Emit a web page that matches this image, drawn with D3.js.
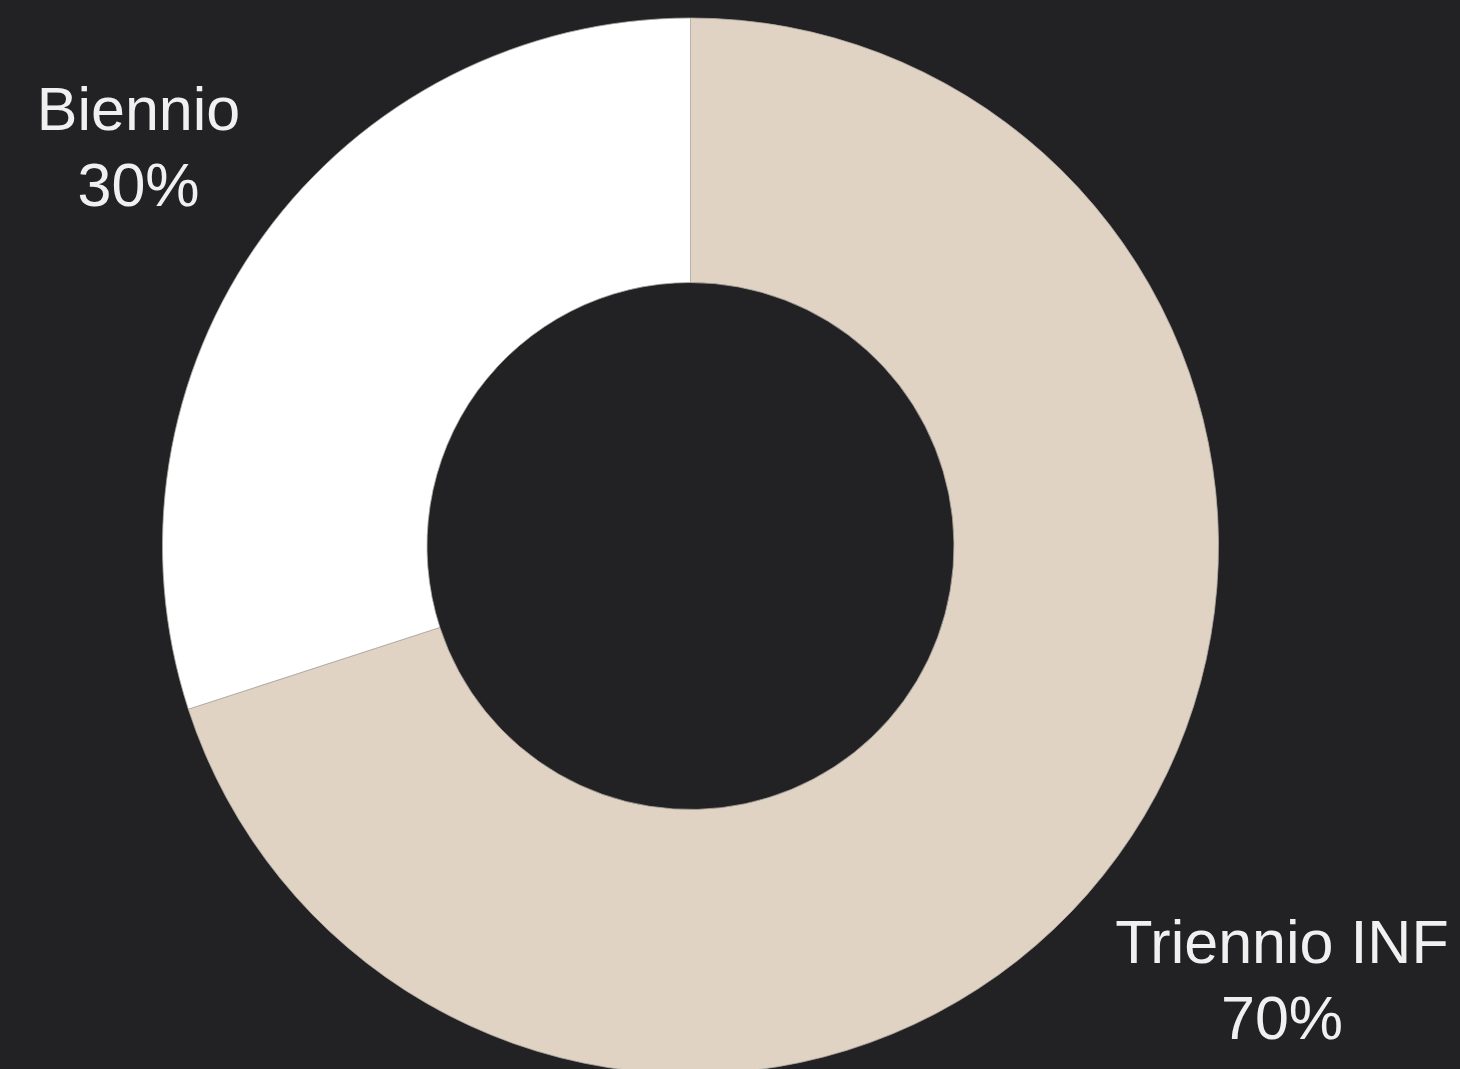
<!DOCTYPE html>
<meta charset="utf-8">
<style>
body { margin: 0; background: #222224; }
svg { display: block; }
.label text { fill: #f0f0f0; font-family: "Liberation Sans", Arial, sans-serif; font-size: 61px; text-anchor: middle; }
</style>
<svg width="1460" height="1069"></svg>
<script src="https://d3js.org/d3.v7.min.js"></script>
<script>

var categories = ["Triennio INF", "Biennio"];
var shares = [70, 30];
var colors = ["#e0d3c3", "#ffffff"];

var svg = d3.select("svg");

var cx = 690.5, cy = 546,
    outer = 528, inner = 263.5;

var pie = d3.pie().sort(null);
var arc = d3.arc().innerRadius(inner).outerRadius(outer);

var arcs = pie(shares);

svg.append("g")
    .attr("transform", "translate(" + cx + "," + cy + ")")
  .selectAll("path")
  .data(arcs)
  .enter().append("path")
    .attr("d", arc)
    .attr("fill", function(d, i) { return colors[i]; })
    .attr("stroke", "#b0aaa4")
    .attr("stroke-width", 0.8);

// labels sit outside the ring, placed by hand like the original
var labelPos = [[1282, 963], [138.5, 130]];

var lab = svg.append("g").attr("class", "label")
  .selectAll("g")
  .data(categories)
  .enter().append("g")
    .attr("transform", function(d, i) { return "translate(" + labelPos[i][0] + "," + labelPos[i][1] + ")"; });

lab.append("text").text(function(d) { return d; });
lab.append("text").attr("y", 76).text(function(d, i) { return shares[i] + "%"; });

</script>
